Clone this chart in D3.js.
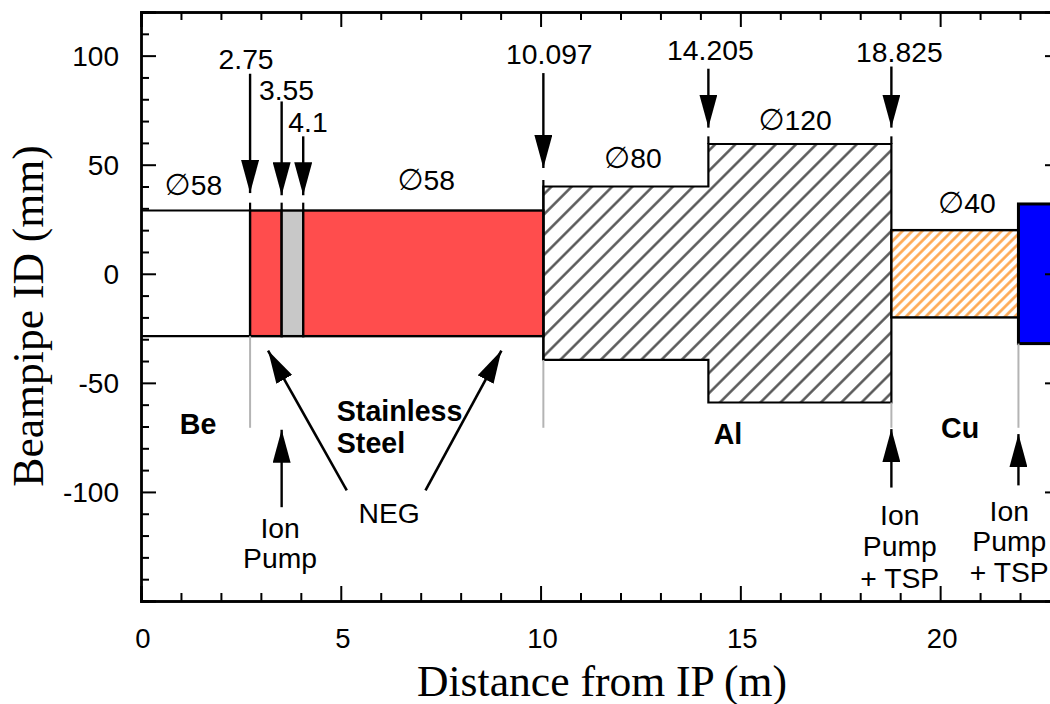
<!DOCTYPE html>
<html>
<head>
<meta charset="utf-8">
<script src="https://cdn.jsdelivr.net/npm/d3@7"></script>
<style>
  html, body { margin: 0; padding: 0; background: #fff; }
  svg { display: block; overflow: hidden; }
  text { font-family: "Liberation Sans", Arial, sans-serif; font-size: 28.3px; fill: #000; }
  .material { font-weight: bold; font-size: 28.6px; }
  .axis-title { font-family: "Liberation Serif", "Times New Roman", serif; font-size: 43.6px; }
  .dia { font-family: "DejaVu Sans"; font-size: 30px; }
</style>
</head>
<body>
<svg id="chart" width="1050" height="704"></svg>
<script>
const xMajor = [0, 5, 10, 15, 20];
const xMinor = [1, 2, 3, 4, 6, 7, 8, 9, 11, 12, 13, 14, 16, 17, 18, 19, 21, 22];
const yMajor = [-100, -50, 0, 50, 100];
const yMinor = [-140, -130, -120, -110, -90, -80, -70, -60, -40, -30, -20, -10, 10, 20, 30, 40, 60, 70, 80, 90, 110];

// section edges along the beampipe
const edges = [0, 2.73, 3.52, 4.06, 10.07, 14.2, 18.78, 21.96, 23];
const upper = [29, 29, 29, 29, 40, 59.5, 20, 32];
const lower = [-28.6, -28.6, -28.6, -28.6, -39.5, -59, -20, -32];

const downX = [2.73, 3.52, 4.06, 10.07, 14.2, 18.78];
const downTail = [91.7, 79, 63, 92, 94, 95];
const downTip = [37, 36, 36, 48.5, 67, 67];
const downText = ["2.75", "3.55", "4.1", "10.097", "14.205", "18.825"];
const downTextX = [2.63, 3.64, 4.18, 10.22, 14.25, 18.98];
const downTextY = [93.8, 79.5, 65.2, 96, 98.1, 96.9];
const stubTop = [32.6, 32.6, 32.6, 43, 63, 63];

const dropX = [2.73, 10.07, 18.78, 21.96];
const dropFrom = [-28.6, -39.5, -59, -32];
const dropTo = -70.6;

const upX = [3.52, 18.78, 21.96];
const upTail = [-107, -98, -97];
const upTip = [-71.5, -71.2, -73.5];

const negFromX = [5.15, 7.12];
const negTipX = [3.18, 9.02];
const negFromY = -99.3;
const negTipY = -35.2;

const diaText = ["58", "58", "80", "120", "40"];
const diaX = [1.31, 7.14, 12.31, 16.37, 20.67];
const diaY = [36.2, 38.5, 48.7, 66, 28];

const materials = ["Be", "Al", "Cu"];
const materialX = [1.43, 14.69, 20.5];
const materialY = [-73.4, -77.9, -75.2];

const svg = d3.select("#chart");
const x = d3.scaleLinear().domain([0, 23]).range([141, 1060]);
const y = d3.scaleLinear().domain([-150, 120]).range([601, 12]);

const defs = svg.append("defs");
const hatch = (id, colour, period, lineWidth) => {
    const p = defs.append("pattern")
        .attr("id", id)
        .attr("patternUnits", "userSpaceOnUse")
        .attr("width", period)
        .attr("height", period)
        .attr("patternTransform", "rotate(45)");
    p.append("rect").attr("width", period).attr("height", period).attr("fill", "#fff");
    p.append("line")
        .attr("x1", period / 2).attr("x2", period / 2)
        .attr("y1", 0).attr("y2", period)
        .attr("stroke", colour)
        .attr("stroke-width", lineWidth);
};
hatch("hatch-al", "#505050", 14.3, 2.4);
hatch("hatch-cu", "#ffa64d", 7, 2.6);

const marker = defs.append("marker")
    .attr("id", "head")
    .attr("markerUnits", "userSpaceOnUse")
    .attr("viewBox", "0 0 33 18")
    .attr("refX", 33).attr("refY", 9)
    .attr("markerWidth", 33).attr("markerHeight", 18)
    .attr("orient", "auto");
marker.append("path").attr("d", "M0,0L33,9L0,18Z").attr("fill", "#000");

const plot = svg.append("g");

// Be: open ended, only the two walls
plot.selectAll(".be-wall")
    .data([upper[0], lower[0]])
    .join("line")
    .attr("x1", x(0)).attr("x2", x(edges[1]))
    .attr("y1", d => y(d)).attr("y2", d => y(d))
    .attr("stroke", "#000").attr("stroke-width", 2.2);

// stepped aluminium section
const alX = [edges[4], edges[5], edges[6]];
const alTop = [upper[4], upper[5], upper[5]];
const alBottom = [lower[4], lower[5], lower[5]];
plot.append("path")
    .attr("d", d3.area().curve(d3.curveStepAfter)
        .x(d => x(alX[d]))
        .y0(d => y(alBottom[d]))
        .y1(d => y(alTop[d]))([0, 1, 2]) + "Z")
    .attr("fill", "url(#hatch-al)")
    .attr("stroke", "#000").attr("stroke-width", 2.2);

const rectSections = [
    { i: 1, fill: "#ff4d4d", sw: 2.4 },
    { i: 2, fill: "#c8c8c8", sw: 2.4 },
    { i: 3, fill: "#ff4d4d", sw: 2.4 },
    { i: 6, fill: "url(#hatch-cu)", sw: 2.4 },
    { i: 7, fill: "#0000ff", sw: 3 }
];
plot.selectAll(".section")
    .data(rectSections)
    .join("rect")
    .attr("x", d => x(edges[d.i]))
    .attr("width", d => x(edges[d.i + 1]) - x(edges[d.i]))
    .attr("y", d => y(upper[d.i]))
    .attr("height", d => y(lower[d.i]) - y(upper[d.i]))
    .attr("fill", d => d.fill)
    .attr("stroke", "#000")
    .attr("stroke-width", d => d.sw);

// grey drop lines below the sections
plot.selectAll(".drop")
    .data(dropX)
    .join("line")
    .attr("x1", d => x(d)).attr("x2", d => x(d))
    .attr("y1", (_, i) => y(dropFrom[i])).attr("y2", y(dropTo))
    .attr("stroke", "#b4b4b4").attr("stroke-width", 2);

// short stubs above the section edges
plot.selectAll(".stub")
    .data(downX)
    .join("line")
    .attr("x1", d => x(d)).attr("x2", d => x(d))
    .attr("y1", (_, i) => y(stubTop[i])).attr("y2", (_, i) => y(i < 3 ? upper[0] : i === 3 ? lower[4] : upper[5]))
    .attr("stroke", "#000").attr("stroke-width", 2.2);

// frame and ticks
const addAxis = (axis, transform, ticks, size, labelled) => {
    const g = svg.append("g")
        .attr("transform", transform)
        .call(axis.tickValues(ticks).tickSize(size).tickFormat(labelled ? String : ""));
    g.selectAll(".domain").attr("stroke", "#000").attr("stroke-width", 2.4);
    g.selectAll(".tick line").attr("stroke", "#000").attr("stroke-width", 2);
    return g;
};
const left = `translate(${x(0)},0)`;
const right = `translate(${x(23)},0)`;
const bottom = `translate(0,${y(-150)})`;
const top_ = `translate(0,${y(120)})`;

const xLabels = addAxis(d3.axisBottom(x).tickPadding(38), bottom, xMajor, -15, true);
xLabels.selectAll("text").attr("dx", 1.5).attr("dy", "0.71em").attr("y", 27).style("font-size", "27.5px");
const yLabels = addAxis(d3.axisLeft(y), left, yMajor, -15, true);
yLabels.selectAll("text").attr("x", -22).attr("dy", 10).style("font-size", "28px");
addAxis(d3.axisBottom(x), bottom, xMinor, -8, false);
addAxis(d3.axisLeft(y), left, yMinor, -8, false);
addAxis(d3.axisTop(x), top_, xMajor, -15, false);
addAxis(d3.axisTop(x), top_, xMinor, -8, false);
addAxis(d3.axisRight(y), right, yMajor, -15, false);
addAxis(d3.axisRight(y), right, yMinor, -8, false);

// arrows
const arrow = (x1, y1, x2, y2, w) => svg.append("line")
    .attr("x1", x(x1)).attr("y1", y(y1))
    .attr("x2", x(x2)).attr("y2", y(y2))
    .attr("stroke", "#000").attr("stroke-width", w)
    .attr("marker-end", "url(#head)");

downX.forEach((d, i) => arrow(d, downTail[i], d, downTip[i], 2.4));
upX.forEach((d, i) => arrow(d, upTail[i], d, upTip[i], 2.4));
negFromX.forEach((d, i) => arrow(d, negFromY, negTipX[i], negTipY, 2.6));

// labels
const label = (txt, xv, yv, anchor, cls) => svg.append("text")
    .attr("x", x(xv)).attr("y", y(yv))
    .attr("text-anchor", anchor || "middle")
    .attr("class", cls || null)
    .text(txt);

downText.forEach((t, i) => label(t, downTextX[i], downTextY[i]));

diaText.forEach((t, i) => {
    const txt = label("", diaX[i], diaY[i]);
    txt.append("tspan").attr("class", "dia").text("\u2205");
    txt.append("tspan").text(t);
});

materials.forEach((t, i) => label(t, materialX[i], materialY[i], "middle", "material"));
label("Stainless", 4.9, -67.7, "start", "material");
label("Steel", 4.9, -82.1, "start", "material");

label("NEG", 6.21, -114.2);
label("Ion", 3.48, -120.9);
label("Pump", 3.48, -134.8);
label("Ion", 18.99, -115.1);
label("Pump", 18.99, -129.3);
label("+ TSP", 18.99, -144);
label("Ion", 21.73, -113.1);
label("Pump", 21.73, -127.3);
label("+ TSP", 21.73, -141.5);

svg.append("text")
    .attr("class", "axis-title")
    .attr("x", 602).attr("y", 696)
    .attr("text-anchor", "middle")
    .text("Distance from IP (m)");

svg.append("text")
    .attr("class", "axis-title")
    .attr("transform", "translate(43,316) rotate(-90)")
    .attr("text-anchor", "middle")
    .text("Beampipe ID (mm)");
</script>
</body>
</html>
